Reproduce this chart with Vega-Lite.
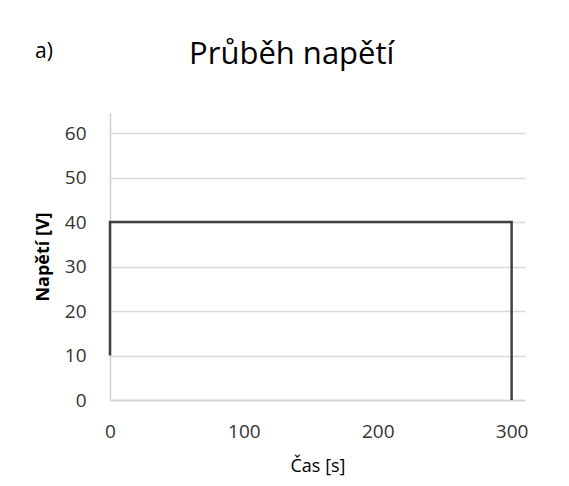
{
  "$schema": "https://vega.github.io/schema/vega-lite/v6.json",
  "autosize": "none",
  "width": 415,
  "height": 287,
  "padding": {"left": 110, "top": 113, "right": 44, "bottom": 86},
  "background": "white",
  "title": {
    "text": "a)",
    "subtitle": "⠀⠀⠀⠀⠀⠀\u00a0\u00a0Průběh napětí",
    "anchor": "start",
    "frame": "group",
    "dx": -75,
    "font": "Open Sans",
    "fontSize": 21,
    "fontWeight": "normal",
    "color": "#000000",
    "subtitleFont": "Open Sans",
    "subtitleFontSize": 31,
    "subtitleColor": "#000000",
    "subtitlePadding": -22,
    "offset": 41
  },
  "data": {
    "values": [
      {"i": 1, "cas": 0, "napeti": 10},
      {"i": 2, "cas": 0, "napeti": 40},
      {"i": 3, "cas": 300, "napeti": 40},
      {"i": 4, "cas": 300, "napeti": 0}
    ]
  },
  "mark": {"type": "line", "color": "#404040", "strokeWidth": 2.5},
  "encoding": {
    "x": {
      "field": "cas",
      "type": "quantitative",
      "scale": {"domain": [0, 310], "nice": false, "zero": false},
      "axis": {
        "title": "Čas [s]",
        "values": [0, 100, 200, 300],
        "grid": false,
        "ticks": false,
        "labelFlush": false,
        "labelPadding": 22,
        "titlePadding": 16
      }
    },
    "y": {
      "field": "napeti",
      "type": "quantitative",
      "scale": {"domain": [0, 64.5], "nice": false},
      "axis": {
        "title": "Napětí [V]",
        "values": [0, 10, 20, 30, 40, 50, 60],
        "grid": true,
        "ticks": false,
        "labelPadding": 24,
        "titlePadding": 12,
        "titleFontWeight": "bold"
      }
    },
    "order": {"field": "i", "type": "quantitative"}
  },
  "config": {
    "view": {"stroke": null},
    "axis": {
      "labelFont": "Open Sans",
      "labelFontSize": 19,
      "labelColor": "#333333",
      "titleFont": "Open Sans",
      "titleFontSize": 18,
      "titleFontWeight": "normal",
      "titleColor": "#000000",
      "domainColor": "#d0d0d0",
      "domainWidth": 1.5,
      "gridColor": "#d9d9d9",
      "gridWidth": 1.5
    }
  }
}
